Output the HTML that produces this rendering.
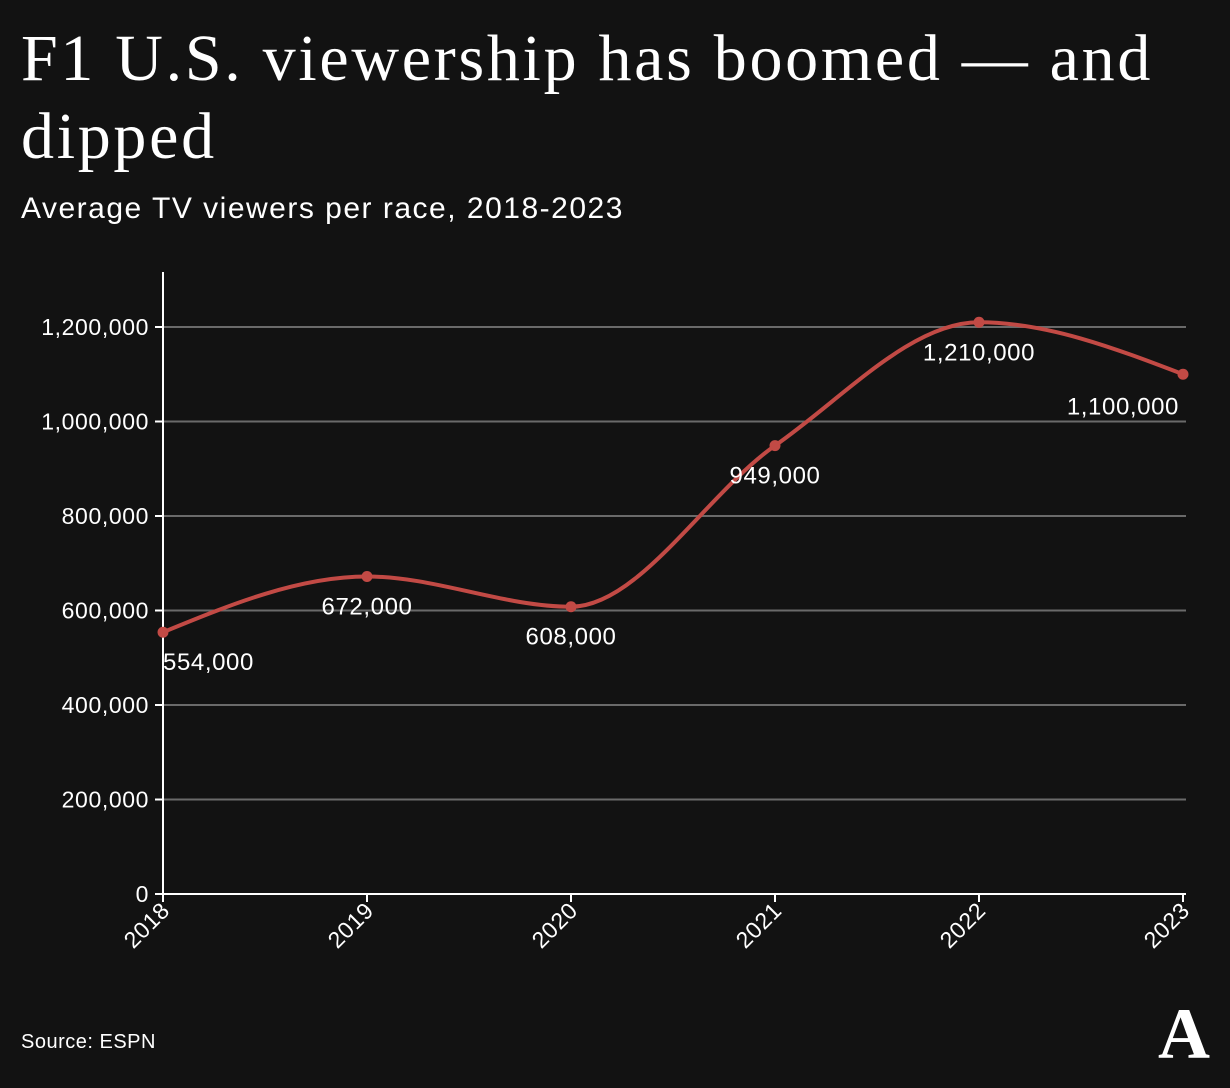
<!DOCTYPE html>
<html><head><meta charset="utf-8"><style>
body{margin:0;background:#121212;width:1230px;height:1088px;overflow:hidden;font-family:"Liberation Sans",sans-serif;color:#fff}
#title{position:absolute;left:21px;top:20px;font-family:"Liberation Serif",serif;font-size:66px;line-height:78px;margin:0;font-weight:normal;width:1190px;letter-spacing:2.7px}
#sub{position:absolute;left:21px;top:192px;font-size:30px;letter-spacing:1.5px}
#src{position:absolute;left:21px;top:1031px;font-size:20px;letter-spacing:0.5px}
#logo{position:absolute;left:1158px;top:998px;font-family:"Liberation Serif",serif;font-size:72px;font-weight:bold;line-height:72px}
</style></head><body>
<h1 id="title">F1 U.S. viewership has boomed — and dipped</h1>
<div id="sub">Average TV viewers per race, 2018-2023</div>
<div id="src">Source: ESPN</div>
<div id="logo">A</div>
<svg id="chart" width="1230" height="1088" style="position:absolute;left:0;top:0"></svg>
<script>
const years=["2018","2019","2020","2021","2022","2023"];
const viewers=[554000,672000,608000,949000,1210000,1100000];
const valueLabels=["554,000","672,000","608,000","949,000","1,210,000","1,100,000"];
const yTicks=[0,200000,400000,600000,800000,1000000,1200000];
const yTickLabels=["0","200,000","400,000","600,000","800,000","1,000,000","1,200,000"];
const NS="http://www.w3.org/2000/svg";
const svg=document.getElementById('chart');
const x0=163,x1=1183,y0=894,yTop=327;
const xs=i=>x0+(x1-x0)*i/(years.length-1);
const ys=v=>y0-(y0-yTop)*v/1200000;
function mk(t,a,p){const e=document.createElementNS(NS,t);for(const k in a)e.setAttribute(k,a[k]);(p||svg).appendChild(e);return e;}
yTicks.forEach((t,i)=>{
 if(t>0){const g=mk('line',{x1:x0,x2:1186,y1:ys(t),y2:ys(t),stroke:'#6a6a6a','stroke-width':2});
 
 }
 const tk=mk('line',{x1:x0-8,x2:x0,y1:ys(t),y2:ys(t),stroke:'#fff','stroke-width':2});
 
 
 const l=mk('text',{x:x0-14,y:ys(t)+8,'text-anchor':'end',fill:'#fff','font-size':23,'letter-spacing':0.6});
 l.textContent=yTickLabels[i];
 
 
});
const ya=mk('line',{x1:x0,x2:x0,y1:272,y2:y0,stroke:'#fff','stroke-width':2});


const xa=mk('line',{x1:x0,x2:1186,y1:y0,y2:y0,stroke:'#fff','stroke-width':2});


years.forEach((yr,i)=>{
 const tk=mk('line',{x1:xs(i),x2:xs(i),y1:y0,y2:y0+8,stroke:'#fff','stroke-width':2});
 
 
 const l=mk('text',{x:0,y:0,'text-anchor':'end',fill:'#fff','font-size':23,'letter-spacing':0.5,transform:`translate(${xs(i)+8},${y0+18}) rotate(-45)`});
 l.textContent=yr;
 
 
});
const P=viewers.map((v,i)=>[xs(i),ys(v)]);
const n=P.length,m=[],d=[];
for(let i=0;i<n-1;i++)d.push((P[i+1][1]-P[i][1])/(P[i+1][0]-P[i][0]));
for(let i=0;i<n;i++){
 if(i===0)m.push(d[0]);else if(i===n-1)m.push(d[n-2]);
 else{ if(d[i-1]*d[i]<=0)m.push(0);else{const h=P[i][0]-P[i-1][0],h2=P[i+1][0]-P[i][0];const p=(d[i-1]*h2+d[i]*h)/(h+h2);m.push((Math.sign(d[i-1])+Math.sign(d[i]))*Math.min(Math.abs(d[i-1]),Math.abs(d[i]),0.5*Math.abs(p)));}}
}
m[0]=(3*d[0]-m[1])/2;m[n-1]=(3*d[n-2]-m[n-2])/2;
let path=`M${P[0][0]},${P[0][1]}`;
for(let i=0;i<n-1;i++){const h=(P[i+1][0]-P[i][0])/3;
 path+=`C${P[i][0]+h},${P[i][1]+m[i]*h} ${P[i+1][0]-h},${P[i+1][1]-m[i+1]*h} ${P[i+1][0]},${P[i+1][1]}`;}
const line=mk('path',{d:path,fill:'none',stroke:'#c24a45','stroke-width':4});


const off=[[0,38],[0,38],[0,38],[0,38],[0,38],[-4,40]];
const anchor=['start','middle','middle','middle','middle','end'];
P.forEach((p,i)=>{
 const c=mk('circle',{cx:p[0],cy:p[1],r:5.5,fill:'#c24a45'});
 
 
 const l=mk('text',{x:p[0]+off[i][0],y:p[1]+off[i][1],'text-anchor':anchor[i],fill:'#fff','font-size':24,'letter-spacing':0.6});
 l.textContent=valueLabels[i];
 
 
});
</script>
</body></html>
